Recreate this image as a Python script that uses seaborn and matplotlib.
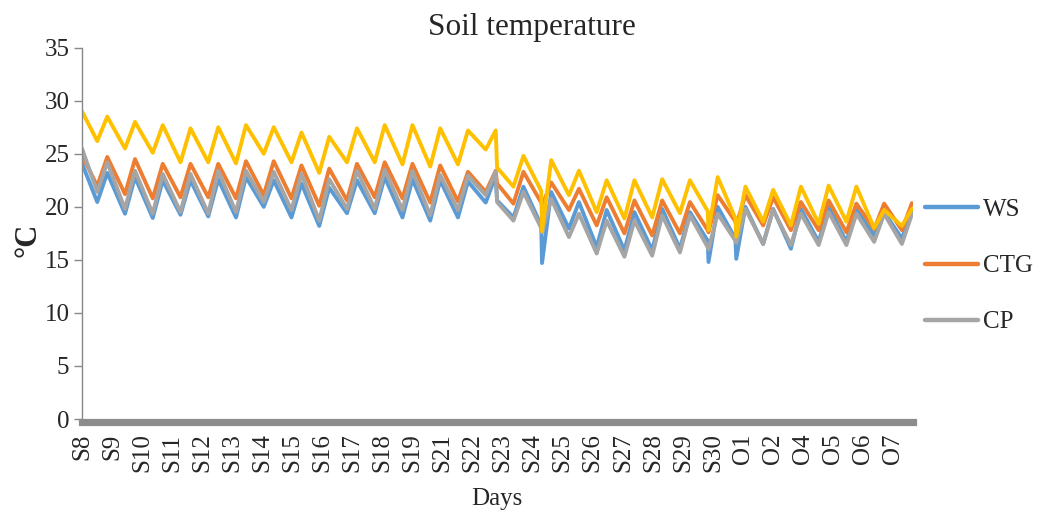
import numpy as np
import pandas as pd
import matplotlib
matplotlib.use("Agg")
import matplotlib.pyplot as plt
import seaborn as sns
from matplotlib.lines import Line2D

# ---------------- data ----------------
day_labels = ["S8", "S9", "S10", "S11", "S12", "S13", "S14", "S15", "S16", "S17",
              "S18", "S19", "S21", "S22", "S23", "S24", "S25", "S26", "S27", "S28",
              "S29", "S30", "O1", "O2", "O4", "O5", "O6", "O7"]

series_names = ["WS", "CTG", "CP", "Series4"]
legend_names = ["WS", "CTG", "CP"]
colors = ["#5B9BD5", "#ED7D31", "#A5A5A5", "#FFC000"]

# value at the first reading
start_vals = [24.1, 24.9, 25.5, 29.0]

# daily minimum (night) and maximum (afternoon) of each day, 30 days
ws_trough = [20.45, 19.35, 18.95, 19.25, 19.1, 19.0, 20.0, 19.0, 18.2, 19.4,
             19.4, 19.0, 18.7, 19.0, 20.4, 19.0, 18.25, 17.95, 16.2, 15.9,
             15.9, 16.05, 16.8, 17.0, 16.5, 16.05, 16.7, 16.7, 17.3, 17.0]
ws_peak = [23.2, 22.8, 22.5, 22.5, 22.6, 22.8, 22.5, 22.2, 21.8, 22.5,
           22.8, 22.6, 22.5, 22.4, 22.95, 21.9, 21.4, 20.45, 19.7, 19.5,
           19.8, 19.5, 20.0, 20.0, 19.8, 19.8, 20.0, 19.8, 19.5, 19.7]

ctg_trough = [21.95, 21.2, 20.8, 20.9, 20.9, 20.8, 21.1, 20.8, 20.1, 20.6,
              20.9, 20.8, 20.4, 20.5, 21.4, 20.3, 20.4, 19.7, 18.25, 17.5,
              17.3, 17.5, 17.8, 18.6, 18.25, 17.8, 17.8, 17.6, 17.9, 17.8]
ctg_peak = [24.7, 24.5, 24.05, 24.05, 24.05, 24.3, 24.3, 23.9, 23.6, 24.05,
            24.2, 24.05, 23.9, 23.3, 23.4, 23.3, 22.3, 21.7, 20.9, 20.6,
            20.6, 20.45, 21.1, 21.1, 20.9, 20.45, 20.6, 20.3, 20.3, 20.35]

cp_trough = [21.4, 19.8, 19.35, 19.5, 19.35, 19.5, 20.45, 19.7, 18.7, 19.8,
             19.8, 19.7, 19.2, 19.7, 21.1, 18.7, 18.0, 17.15, 15.6, 15.3,
             15.4, 15.7, 16.2, 16.8, 16.5, 16.4, 16.4, 16.4, 16.7, 16.5]
cp_peak = [24.2, 23.4, 23.1, 23.1, 23.4, 23.4, 23.3, 23.1, 22.6, 23.4,
           23.5, 23.4, 23.0, 22.95, 23.3, 21.4, 20.75, 19.35, 18.7, 18.7,
           19.2, 19.2, 19.35, 19.8, 19.7, 19.35, 19.5, 19.35, 19.35, 19.3]

s4_trough = [26.2, 25.5, 25.1, 24.2, 24.2, 24.1, 25.0, 24.2, 23.2, 24.2,
             24.2, 24.0, 23.8, 24.0, 25.4, 21.9, 21.5, 21.1, 19.5, 18.9,
             19.0, 19.4, 19.6, 18.9, 18.6, 18.25, 18.4, 18.6, 18.0, 18.2]
s4_peak = [28.5, 28.0, 27.7, 27.4, 27.5, 27.7, 27.5, 27.0, 26.6, 27.4,
           27.7, 27.7, 27.4, 27.2, 27.2, 24.8, 24.4, 23.4, 22.5, 22.5,
           22.6, 22.5, 22.8, 21.9, 21.6, 21.9, 22.0, 21.9, 19.7, 19.8]

# short sensor drops (day index -> value per series WS, CTG, CP, Series4)
dip_days = [16, 22, 23]
dip_vals = [[14.7, 20.1, 17.6, 17.7],
            [14.8, 17.6, 16.0, 17.8],
            [15.1, 18.3, 16.6, 17.2]]

# level shift right after the afternoon maximum of day 14 (S23)
step_day = 14
step_vals = [20.6, 22.2, 20.45, 23.7]

troughs = [ws_trough, ctg_trough, cp_trough, s4_trough]
peaks = [ws_peak, ctg_peak, cp_peak, s4_peak]
n_days = len(ws_trough)

# ---------------- long table ----------------
rows = []
for i, name in enumerate(series_names):
    rows.append((name, 0.0, start_vals[i]))
    for d in range(n_days):
        rows.append((name, d + 0.55, troughs[i][d]))
        if d in dip_days:
            rows.append((name, d + 0.58, dip_vals[dip_days.index(d)][i]))
        rows.append((name, d + 0.91, peaks[i][d]))
        if d == step_day:
            rows.append((name, d + 0.96, step_vals[i]))
df = pd.DataFrame(rows, columns=["series", "t", "temp"])

# ---------------- plot ----------------
sns.set_theme(style="white")
plt.rcParams["font.family"] = ["Liberation Serif", "DejaVu Serif"]

fig = plt.figure(figsize=(10.4, 5.15), dpi=100)
ax = fig.add_axes([82 / 1040, 1 - 419 / 515, (913 - 82) / 1040, (419 - 47.7) / 515])

# spines first (set_position resets the tick objects)
for s in ["top", "right"]:
    ax.spines[s].set_visible(False)
ax.spines["left"].set_color("#888888")
ax.spines["left"].set_linewidth(1)
ax.spines["bottom"].set_position(("outward", 2.5))
ax.spines["bottom"].set_color("#8C8C8C")
ax.spines["bottom"].set_linewidth(5.2)

sns.lineplot(data=df, x="t", y="temp", hue="series", hue_order=series_names,
             palette=colors, estimator=None, sort=False, linewidth=2.8,
             legend=False, ax=ax)
for ln in ax.get_lines():
    ln.set_solid_joinstyle("round")
    ln.set_solid_capstyle("round")

ax.set_xlim(0, 29.95)
ax.set_ylim(0, 35)
ax.set_yticks(np.arange(0, 36, 5))
label_step = 1.083
ax.set_xticks([k * label_step for k in range(len(day_labels))])
ax.set_xticklabels(day_labels)
ax.tick_params(axis="y", labelsize=18, direction="out", length=6, width=1,
               color="#888888", left=True, pad=3)
ax.tick_params(axis="x", length=0, pad=8, labelsize=18, labelrotation=90)
ax.set_xlabel("")
ax.set_ylabel("")
ax.grid(False)

fig.text(532 / 1040, 1 - 27 / 515, "Soil temperature", ha="center", va="center",
         fontsize=22.5)
fig.text(28 / 1040, 1 - 240 / 515, "°C", ha="center", va="center", rotation=90,
         fontsize=22, fontweight="bold")
fig.text(497 / 1040, 1 - 499 / 515, "Days", ha="center", va="center", fontsize=18)

handles = [Line2D([0], [0], color=colors[i], lw=3.2) for i in range(3)]
fig.legend(handles, legend_names, loc="center left",
           bbox_to_anchor=(925 / 1040, 1 - 266 / 515), frameon=False,
           fontsize=18, handlelength=2.1, handletextpad=0.2, labelspacing=1.35,
           borderpad=0, borderaxespad=0)

fig.savefig("out.png", dpi=100)
